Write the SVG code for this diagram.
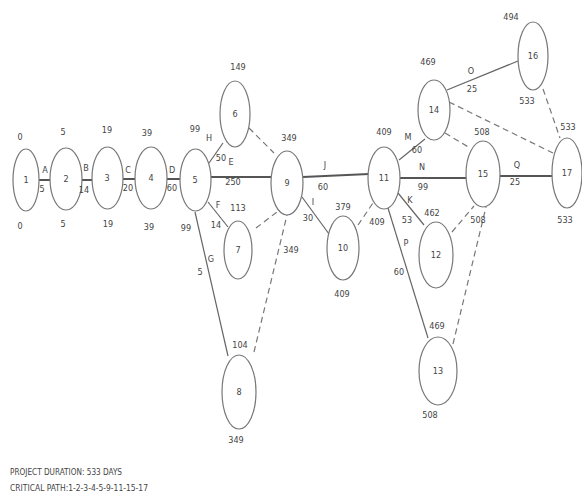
<svg xmlns="http://www.w3.org/2000/svg" width="582" height="501" viewBox="0 0 582 501">
<style>
.n ellipse{fill:#fff;stroke:#777;stroke-width:1.2}
text{font-family:"DejaVu Sans Condensed","DejaVu Sans",sans-serif;font-size:9px;fill:#444;text-anchor:middle}
.s{stroke:#666;stroke-width:1.2;fill:none}
.c{stroke:#555;stroke-width:2;fill:none}
.d{stroke:#777;stroke-width:1.2;fill:none;stroke-dasharray:6 4}
.f{text-anchor:start;font-size:8.5px}
</style>
<rect width="582" height="501" fill="#fff"/>
<g id="connectors">
<line class="c" x1="39" y1="180" x2="50" y2="180"/>
<line class="c" x1="82" y1="180" x2="92" y2="180"/>
<line class="c" x1="123" y1="179" x2="135" y2="179"/>
<line class="c" x1="167" y1="179" x2="180" y2="179"/>
<line class="s" x1="209" y1="163" x2="223" y2="143"/>
<line class="c" x1="211" y1="177" x2="271" y2="177"/>
<line class="s" x1="208" y1="202" x2="228" y2="227"/>
<line class="s" x1="195" y1="212" x2="228" y2="356"/>
<line class="d" x1="249" y1="128" x2="274" y2="153"/>
<line class="d" x1="256" y1="228" x2="277" y2="212"/>
<line class="d" x1="254" y1="352" x2="287" y2="215"/>
<line class="c" x1="303" y1="177" x2="369" y2="174"/>
<line class="s" x1="302" y1="197" x2="329" y2="234"/>
<line class="d" x1="358" y1="225" x2="373" y2="203"/>
<line class="s" x1="399" y1="160" x2="425" y2="139"/>
<line class="c" x1="400" y1="178" x2="466" y2="178"/>
<line class="s" x1="398" y1="193" x2="424" y2="225"/>
<line class="s" x1="388" y1="208" x2="428" y2="338"/>
<line class="d" x1="445" y1="133" x2="470" y2="148"/>
<line class="d" x1="449" y1="102" x2="553" y2="153"/>
<line class="s" x1="447" y1="90" x2="518" y2="61"/>
<line class="d" x1="543" y1="89" x2="560" y2="138"/>
<line class="d" x1="452" y1="232" x2="474" y2="206"/>
<line class="d" x1="453" y1="344" x2="486" y2="207"/>
<line class="c" x1="500" y1="176" x2="552" y2="176"/>
</g>
<g id="n1" class="n"><ellipse cx="26" cy="180" rx="13" ry="31"/><text x="26" y="183">1</text><text x="20" y="140">0</text><text x="20" y="229">0</text></g>
<g id="n2" class="n"><ellipse cx="66" cy="179" rx="16" ry="31"/><text x="66" y="182">2</text><text x="63" y="135">5</text><text x="63" y="227">5</text></g>
<g id="n3" class="n"><ellipse cx="107.5" cy="178" rx="15.5" ry="31"/><text x="107" y="181">3</text><text x="107" y="133">19</text><text x="108" y="227">19</text></g>
<g id="n4" class="n"><ellipse cx="151" cy="178" rx="16" ry="31"/><text x="151" y="181">4</text><text x="147" y="136">39</text><text x="149" y="230">39</text></g>
<g id="n5" class="n"><ellipse cx="195.5" cy="180" rx="15.5" ry="31"/><text x="195" y="183">5</text><text x="195" y="132">99</text><text x="186" y="231">99</text></g>
<g id="n6" class="n"><ellipse cx="235" cy="114" rx="15" ry="33"/><text x="235" y="117">6</text><text x="238" y="70">149</text></g>
<g id="n7" class="n"><ellipse cx="238" cy="250" rx="14" ry="29"/><text x="238" y="253">7</text><text x="238" y="211">113</text></g>
<g id="n8" class="n"><ellipse cx="239" cy="392" rx="17" ry="37"/><text x="239" y="395">8</text><text x="240" y="348">104</text><text x="236" y="443">349</text></g>
<g id="n9" class="n"><ellipse cx="287" cy="183" rx="16" ry="32"/><text x="287" y="186">9</text><text x="289" y="141">349</text><text x="291" y="253">349</text></g>
<g id="n10" class="n"><ellipse cx="343" cy="248" rx="16" ry="32"/><text x="343" y="251">10</text><text x="343" y="210">379</text><text x="342" y="297">409</text></g>
<g id="n11" class="n"><ellipse cx="384" cy="178" rx="16" ry="31"/><text x="384" y="181">11</text><text x="384" y="135">409</text><text x="377" y="225">409</text></g>
<g id="n12" class="n"><ellipse cx="436" cy="255" rx="17" ry="33"/><text x="436" y="258">12</text><text x="432" y="216">462</text></g>
<g id="n13" class="n"><ellipse cx="438" cy="371" rx="19" ry="34"/><text x="438" y="374">13</text><text x="437" y="329">469</text><text x="430" y="418">508</text></g>
<g id="n14" class="n"><ellipse cx="434" cy="110" rx="16" ry="30"/><text x="434" y="113">14</text><text x="428" y="65">469</text></g>
<g id="n15" class="n"><ellipse cx="483" cy="174" rx="17" ry="33"/><text x="483" y="177">15</text><text x="482" y="135">508</text><text x="478" y="223">508</text></g>
<g id="n16" class="n"><ellipse cx="533" cy="56" rx="15" ry="34"/><text x="533" y="59">16</text><text x="511" y="20">494</text><text x="527" y="104">533</text></g>
<g id="n17" class="n"><ellipse cx="567" cy="173" rx="15" ry="35"/><text x="567" y="176">17</text><text x="568" y="130">533</text><text x="565" y="223">533</text></g>
<g id="edge-labels">
<text x="45" y="173">A</text><text x="42" y="192">5</text>
<text x="86" y="171">B</text><text x="84" y="193">14</text>
<text x="128" y="173">C</text><text x="128" y="191">20</text>
<text x="172" y="173">D</text><text x="172" y="191">60</text>
<text x="209" y="141">H</text><text x="221" y="161">50</text>
<text x="231" y="165">E</text><text x="233" y="185">250</text>
<text x="218" y="208">F</text><text x="216" y="228">14</text>
<text x="211" y="262">G</text><text x="200" y="275">5</text>
<text x="325" y="168">J</text><text x="323" y="190">60</text>
<text x="313" y="205">I</text><text x="308" y="221">30</text>
<text x="408" y="140">M</text><text x="417" y="153">60</text>
<text x="422" y="170">N</text><text x="423" y="190">99</text>
<text x="410" y="203">K</text><text x="407" y="223">53</text>
<text x="406" y="246">P</text><text x="399" y="275">60</text>
<text x="471" y="74">O</text><text x="472" y="92">25</text>
<text x="517" y="168">Q</text><text x="515" y="185">25</text>
</g>
<g id="footer">
<text class="f" x="10" y="475" textLength="112" lengthAdjust="spacingAndGlyphs">PROJECT DURATION: 533 DAYS</text>
<text class="f" x="10" y="491" textLength="138" lengthAdjust="spacingAndGlyphs">CRITICAL PATH:1-2-3-4-5-9-11-15-17</text>
</g>
</svg>
